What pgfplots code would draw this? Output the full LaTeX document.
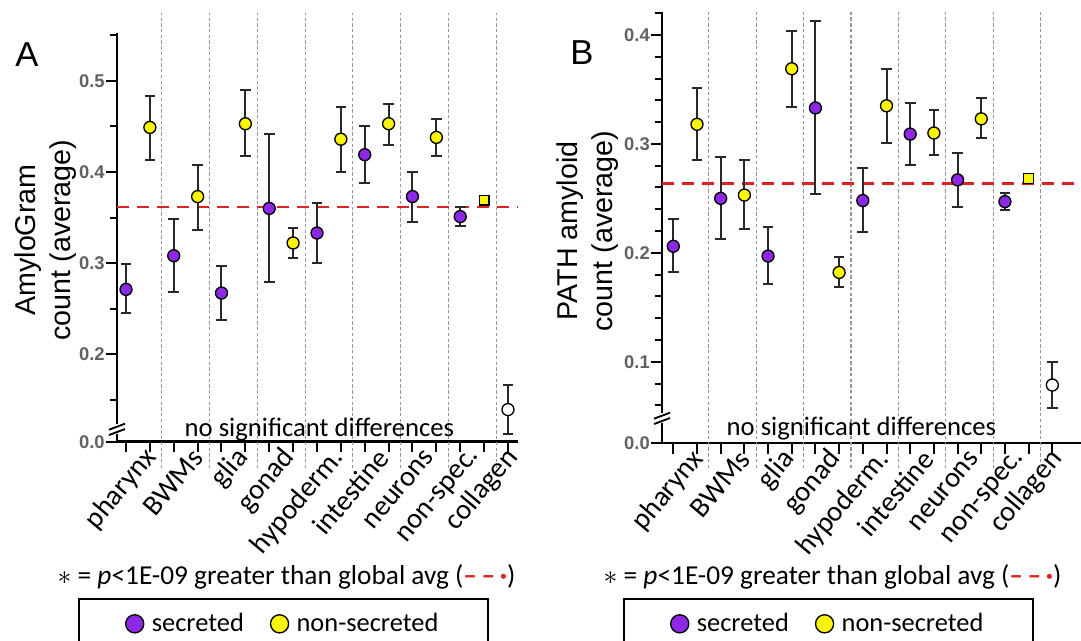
\documentclass[border=0pt]{standalone}
\usepackage{pgfplots}
\pgfplotsset{compat=1.18}
\usepackage{fontspec}
\setmainfont{Carlito}
\newfontfamily\arialf{Liberation Sans}
\definecolor{secr}{RGB}{140,40,230}
\definecolor{nsecr}{RGB}{250,245,0}
\definecolor{avgred}{RGB}{222,35,35}
\definecolor{sepgray}{RGB}{150,150,150}
\definecolor{ebar}{RGB}{40,40,40}

\pgfplotsset{
  panel/.style={
    scale only axis, clip=false,
    axis x line*=bottom, axis y line*=left,
    axis line style={line width=1.8pt, -},
    xtick={0,...,16}, xticklabels={},
    tick align=outside,
    xtick style={line width=1.5pt, black},
    ytick style={line width=1.5pt, black},
    major tick length=8pt, minor tick length=5pt,
    yticklabel style={font=\arialf\bfseries\fontsize{13.8}{13.8}\selectfont, text=black!62, inner xsep=1pt},
    extra x ticks={0.8,2.75,4.65,6.6,8.65,10.5,12.45,14.4,15.95},
    extra x tick labels={pharynx,BWMs,glia,gonad,hypoderm.,intestine,neurons,non-spec.,collagen},
    extra x tick style={major tick length=0pt, tick label style={rotate=50, anchor=east, font=\fontsize{21.5}{21.5}\selectfont, text=black, yshift=-9pt}},
    legend cell align=left,
    legend image code/.code={\draw[##1, mark size=6.8pt, line width=1.3pt] plot coordinates {(0pt,0pt)};},
    legend style={anchor=north west, draw=black, line width=1.5pt, legend columns=2,
      font=\fontsize{19.8}{19.8}\selectfont, inner xsep=35pt, inner ysep=9pt,
      /tikz/every odd column/.append style={column sep=4pt},
      /tikz/every even column/.append style={column sep=18pt}},
    /pgf/number format/fixed, /pgf/number format/fixed zerofill,
    /pgf/number format/precision=1, /pgf/number format/assume math mode=true,
  },
  ebars/.style={error bars/y dir=both, error bars/y explicit,
    error bars/error bar style={line width=1.5pt, ebar},
    error bars/error mark options={rotate=90, mark size=4pt, line width=1.5pt, ebar}},
  secstyle/.style={only marks, mark=*, mark size=4.5pt, mark options={fill=secr, draw=black, line width=1pt}, ebars},
  nonstyle/.style={only marks, mark=*, mark size=4.5pt, mark options={fill=nsecr, draw=black, line width=1pt}, ebars},
  sqstyle/.style={only marks, mark=square*, mark size=3.7pt, mark options={fill=nsecr, draw=black, line width=1pt}, ebars},
  colstyle/.style={only marks, mark=*, mark size=4.5pt, mark options={fill=white, draw=black, line width=1pt}, ebars},
  sepstyle/.style={sepgray, line width=0.8pt, dash pattern=on 2.5pt off 1.8pt, forget plot},
  avgstyle/.style={avgred, line width=2pt, dash pattern=on 9pt off 6pt, forget plot},
}

\begin{document}
\begin{tikzpicture}
\useasboundingbox (0pt,0pt) rectangle (810.75pt,480.75pt);

% ---------------- Panel A ----------------
\begin{axis}[panel, at={(87.75pt,149.475pt)}, anchor=south west,
  width=300.75pt, height=306.525pt,
  xmin=-0.377, xmax=16.42, ymin=0.1037, ymax=0.5527,
  ytick={0.2,0.3,0.4,0.5}, minor ytick={0.15,0.25,0.35,0.45,0.55},
  extra y ticks={0.1037}, extra y tick labels={0.0},
  legend style={at={(axis description cs:-0.0973,-0.3824)}}]
\addplot[sepstyle] coordinates {(1.5,0.0747) (1.5,0.5747)};
\addplot[sepstyle] coordinates {(3.5,0.0747) (3.5,0.5747)};
\addplot[sepstyle] coordinates {(5.5,0.0747) (5.5,0.5747)};
\addplot[sepstyle] coordinates {(7.5,0.0747) (7.5,0.5747)};
\addplot[sepstyle] coordinates {(9.5,0.0747) (9.5,0.5747)};
\addplot[sepstyle] coordinates {(11.5,0.0747) (11.5,0.5747)};
\addplot[sepstyle] coordinates {(13.5,0.0747) (13.5,0.5747)};
\addplot[sepstyle] coordinates {(15.5,0.0747) (15.5,0.5747)};
\addplot[avgstyle] coordinates {(-0.377,0.3615) (16.42,0.3615)};
\addplot[secstyle] coordinates {
 (0,0.271) += (0,0.028) -= (0,0.026)
 (2,0.308) += (0,0.040) -= (0,0.040)
 (4,0.267) += (0,0.030) -= (0,0.030)
 (6,0.360) += (0,0.082) -= (0,0.081)
 (8,0.333) += (0,0.033) -= (0,0.033)
 (10,0.419) += (0,0.031) -= (0,0.031)
 (12,0.373) += (0,0.027) -= (0,0.028)
 (14,0.351) += (0,0.010) -= (0,0.010)
};
\addlegendentry{secreted}
\addplot[nonstyle] coordinates {
 (1,0.449) += (0,0.035) -= (0,0.036)
 (3,0.373) += (0,0.035) -= (0,0.037)
 (5,0.453) += (0,0.037) -= (0,0.035)
 (7,0.322) += (0,0.017) -= (0,0.016)
 (9,0.436) += (0,0.035) -= (0,0.036)
 (11,0.453) += (0,0.022) -= (0,0.023)
 (13,0.438) += (0,0.020) -= (0,0.020)
};
\addlegendentry{non-secreted}
\addplot[sqstyle, forget plot] coordinates {(15,0.369) += (0,0.003) -= (0,0.003)};
\addplot[colstyle, forget plot] coordinates {(16,0.139) += (0,0.027) -= (0,0.027)};
% axis break
\fill[white] ([xshift=-3pt,yshift=-4pt]axis cs:-0.377,0.1176) rectangle ([xshift=3pt,yshift=4pt]axis cs:-0.377,0.1176);
\draw[line width=1.4pt] ([xshift=-6pt,yshift=-4.5pt]axis cs:-0.377,0.1176) -- ++(12pt,4.5pt);
\draw[line width=1.4pt] ([xshift=-6pt,yshift=-0.5pt]axis cs:-0.377,0.1176) -- ++(12pt,4.5pt);
\end{axis}

% ---------------- Panel B ----------------
\begin{axis}[panel, at={(496.5pt,148.275pt)}, anchor=south west,
  width=317.25pt, height=323.7pt,
  xmin=-0.477, xmax=17.38, ymin=0.0251, ymax=0.4214,
  ytick={0.1,0.2,0.3,0.4},
  minor ytick={0.06,0.08,0.12,0.14,0.16,0.18,0.22,0.24,0.26,0.28,0.32,0.34,0.36,0.38,0.42},
  extra y ticks={0.0251}, extra y tick labels={0.0},
  legend style={at={(axis description cs:-0.0922,-0.3584)}}]
\addplot[sepstyle] coordinates {(1.5,0.0024) (1.5,0.4211)};
\addplot[sepstyle] coordinates {(3.5,0.0024) (3.5,0.4211)};
\addplot[sepstyle] coordinates {(5.5,0.0024) (5.5,0.4211)};
\addplot[sepstyle] coordinates {(7.5,0.0024) (7.5,0.4211)};
\addplot[sepstyle] coordinates {(9.5,0.0024) (9.5,0.4211)};
\addplot[sepstyle] coordinates {(11.5,0.0024) (11.5,0.4211)};
\addplot[sepstyle] coordinates {(13.5,0.0024) (13.5,0.4211)};
\addplot[sepstyle] coordinates {(15.5,0.0024) (15.5,0.4211)};
\addplot[avgstyle] coordinates {(-0.477,0.2635) (17.38,0.2635)};
\addplot[secstyle] coordinates {
 (0,0.206) += (0,0.025) -= (0,0.024)
 (2,0.250) += (0,0.038) -= (0,0.037)
 (4,0.197) += (0,0.027) -= (0,0.026)
 (6,0.333) += (0,0.080) -= (0,0.079)
 (8,0.248) += (0,0.030) -= (0,0.029)
 (10,0.309) += (0,0.029) -= (0,0.028)
 (12,0.267) += (0,0.025) -= (0,0.025)
 (14,0.247) += (0,0.008) -= (0,0.008)
};
\addlegendentry{secreted}
\addplot[nonstyle] coordinates {
 (1,0.318) += (0,0.033) -= (0,0.033)
 (3,0.253) += (0,0.032) -= (0,0.031)
 (5,0.369) += (0,0.035) -= (0,0.035)
 (7,0.182) += (0,0.014) -= (0,0.013)
 (9,0.335) += (0,0.034) -= (0,0.034)
 (11,0.310) += (0,0.021) -= (0,0.020)
 (13,0.323) += (0,0.019) -= (0,0.018)
};
\addlegendentry{non-secreted}
\addplot[sqstyle, forget plot] coordinates {(15,0.268) += (0,0.003) -= (0,0.003)};
\addplot[colstyle, forget plot] coordinates {(16,0.0786) += (0,0.021) -= (0,0.021)};
% axis break
\fill[white] ([xshift=-3pt,yshift=-4pt]axis cs:-0.477,0.0483) rectangle ([xshift=3pt,yshift=4pt]axis cs:-0.477,0.0483);
\draw[line width=1.4pt] ([xshift=-6pt,yshift=-4.5pt]axis cs:-0.477,0.0483) -- ++(12pt,4.5pt);
\draw[line width=1.4pt] ([xshift=-6pt,yshift=-0.5pt]axis cs:-0.477,0.0483) -- ++(12pt,4.5pt);
\end{axis}

% ---------------- Text ----------------
\node[font=\arialf\fontsize{26}{26}\selectfont] at (20.25pt,439.5pt) {A};
\node[font=\arialf\fontsize{26}{26}\selectfont] at (436.5pt,441pt) {B};
\node[rotate=90, align=center, font=\arialf\fontsize{21.5}{26.5}\selectfont] at (34.1pt,300.75pt) {AmyloGram\\count (average)};
\node[rotate=90, align=center, font=\arialf\fontsize{21.5}{26.5}\selectfont] at (440.6pt,307.5pt) {PATH amyloid\\count (average)};
\node[anchor=base, font=\fontsize{20}{20}\selectfont, inner sep=0pt] at (239.6pt,153pt) {no significant differences};
\node[anchor=base, font=\fontsize{20}{20}\selectfont, inner sep=0pt] at (646.1pt,153.75pt) {no significant differences};
\node[font=\fontsize{20.5}{20.5}\selectfont, inner sep=0pt] at (214.9pt,48pt) {$\ast$ = \textit{p}<1E-09 greater than global avg (\textcolor{avgred}{\textbf{–\,–\,·}})};
\node[font=\fontsize{20.5}{20.5}\selectfont, inner sep=0pt] at (624.4pt,48pt) {$\ast$ = \textit{p}<1E-09 greater than global avg (\textcolor{avgred}{\textbf{–\,–\,·}})};
\end{tikzpicture}
\end{document}
